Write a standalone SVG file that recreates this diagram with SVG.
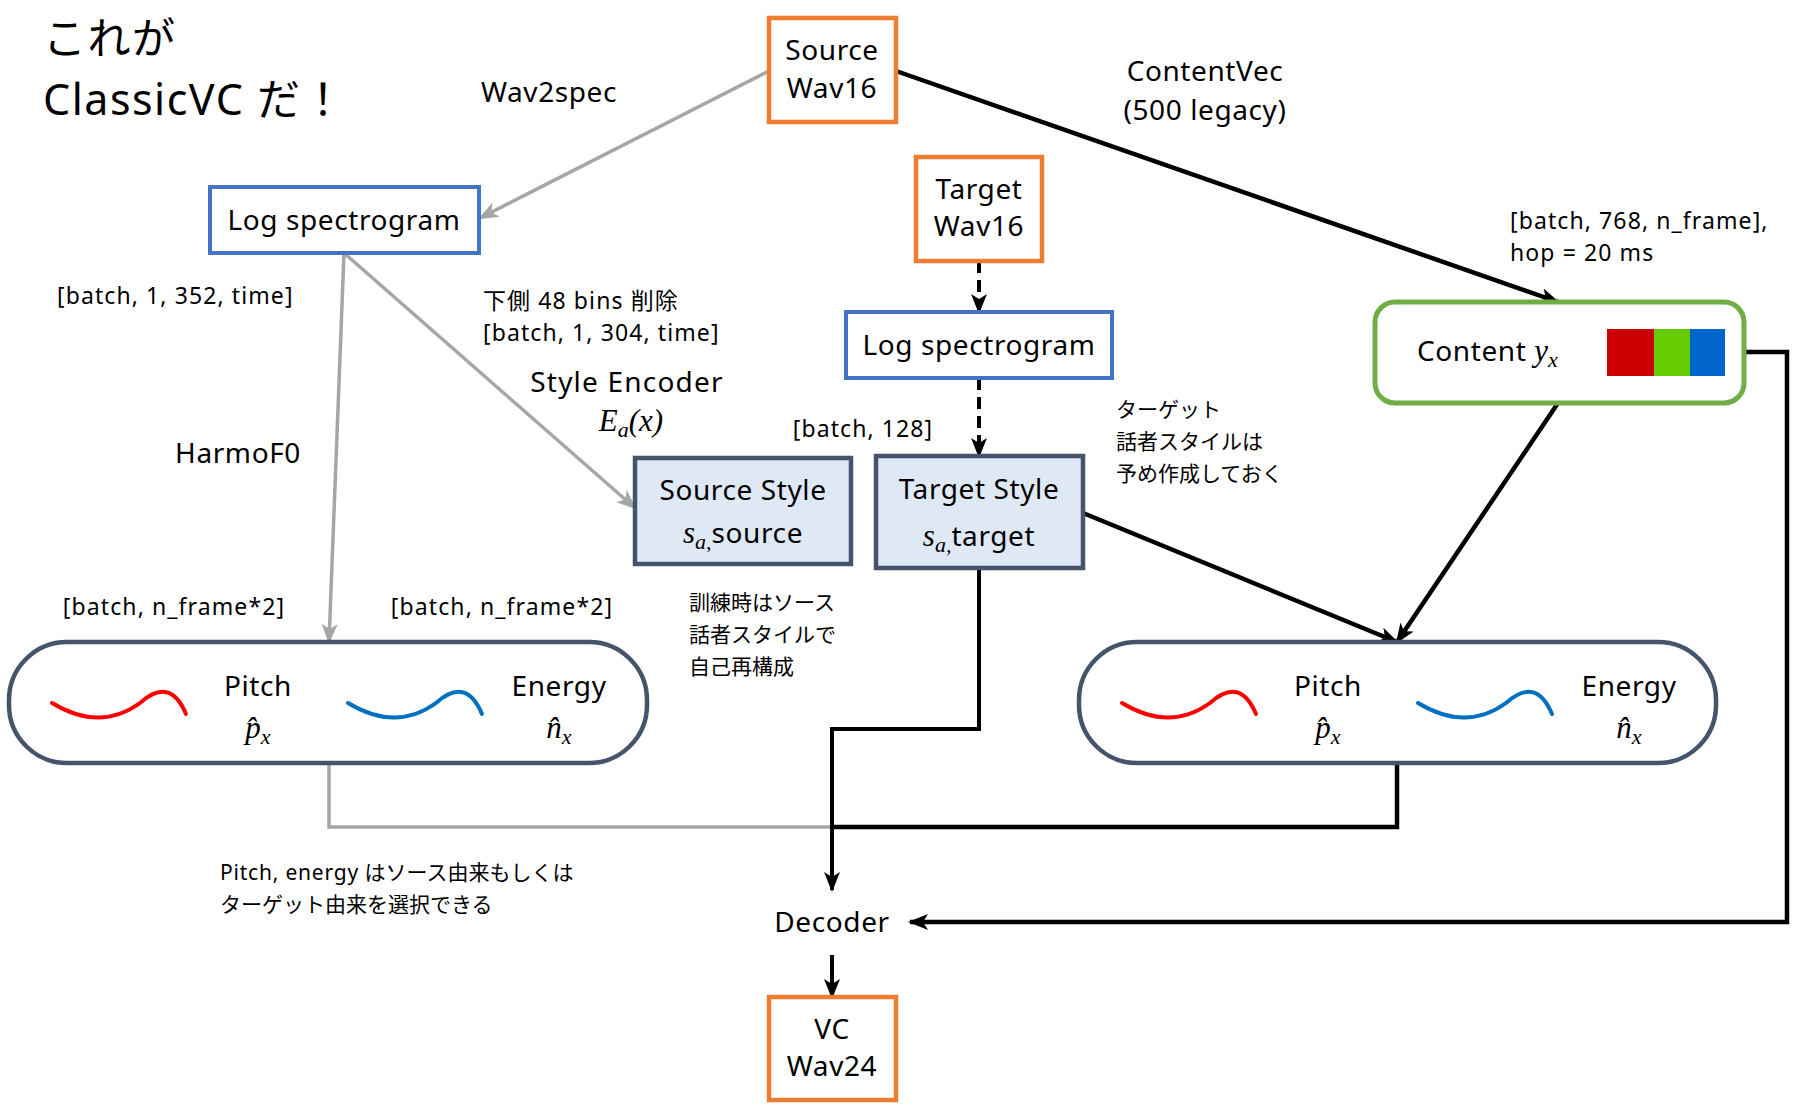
<svg xmlns="http://www.w3.org/2000/svg" width="1800" height="1116" viewBox="0 0 1800 1116">
<defs>
<style>
text{font-family:"Noto Sans","Noto Sans CJK JP",sans-serif;fill:#000}
.t{font-size:28px;letter-spacing:0.6px}
.c{text-anchor:middle}
.s{font-size:23px;letter-spacing:1.1px}
.j{font-size:21px;font-family:"Noto Sans CJK JP",sans-serif}
.jl{font-size:21px}
.title{font-size:43px;letter-spacing:1.5px}
.m{font-family:"Liberation Serif","DejaVu Serif",serif;font-style:italic;letter-spacing:0}
.orange{fill:#fff;stroke:#ed7d31;stroke-width:4.5}
.blue{fill:#fff;stroke:#4472c4;stroke-width:4}
.style{fill:#dfe9f5;stroke:#44546a;stroke-width:4.5}
.pill{fill:#fff;stroke:#44546a;stroke-width:4.5}
.green{fill:#fff;stroke:#70ad47;stroke-width:5}
.k{fill:none;stroke:#000;stroke-width:4.5}
.kt{fill:none;stroke:#000;stroke-width:4}
.g{fill:none;stroke:#a6a6a6;stroke-width:3.5}
.d{fill:none;stroke:#000;stroke-width:4;stroke-dasharray:12,7}
.red{fill:none;stroke:#ff0000;stroke-width:4;stroke-linecap:round}
.bl{fill:none;stroke:#0070c0;stroke-width:4;stroke-linecap:round}
</style>
<marker id="ak" markerUnits="userSpaceOnUse" markerWidth="20" markerHeight="16" refX="18" refY="8" orient="auto"><path d="M0,0 L20,8 L0,16 L5,8 Z" fill="#000"/></marker>
<marker id="ag" markerUnits="userSpaceOnUse" markerWidth="20" markerHeight="16" refX="18" refY="8" orient="auto"><path d="M0,0 L20,8 L0,16 L5,8 Z" fill="#a6a6a6"/></marker>
</defs>
<rect width="1800" height="1116" fill="#fff"/>

<g id="labels">
<text class="title" x="43" y="54">これが</text>
<text class="title" x="43" y="115">ClassicVC だ！</text>
<text class="t c" x="549" y="102">Wav2spec</text>
<text class="t c" x="1205" y="81">ContentVec</text>
<text class="t c" x="1205" y="120">(500 legacy)</text>
<text class="s" x="1510" y="229">[batch, 768, n_frame],</text>
<text class="s" x="1510" y="261">hop = 20 ms</text>
<text class="s" x="57" y="304">[batch, 1, 352, time]</text>
<text class="s" x="483" y="309">下側 48 bins 削除</text>
<text class="s" x="483" y="341">[batch, 1, 304, time]</text>
<text class="t c" x="627" y="392" style="letter-spacing:1.2px">Style Encoder</text>
<text class="m c" x="631" y="431" font-size="31">E<tspan font-size="22" dy="6">a</tspan><tspan dy="-6">(x)</tspan></text>
<text class="t c" x="238" y="463">HarmoF0</text>
<text class="s c" x="863" y="437">[batch, 128]</text>
<text class="j" x="1116" y="417">ターゲット</text>
<text class="j" x="1116" y="449">話者スタイルは</text>
<text class="j" x="1116" y="481">予め作成しておく</text>
<text class="j" x="689" y="610">訓練時はソース</text>
<text class="j" x="689" y="642">話者スタイルで</text>
<text class="j" x="689" y="674">自己再構成</text>
<text class="s c" x="174" y="615">[batch, n_frame*2]</text>
<text class="s c" x="502" y="615">[batch, n_frame*2]</text>
<text class="jl" x="220" y="880"><tspan style="letter-spacing:0.8px">Pitch, energy</tspan> はソース由来もしくは</text>
<text class="j" x="220" y="912">ターゲット由来を選択できる</text>
</g>

<g id="connectors">
<line class="g" x1="769" y1="71" x2="480" y2="218" marker-end="url(#ag)"/>
<line class="k" x1="896" y1="71" x2="1558" y2="302" marker-end="url(#ak)"/>
<line class="g" x1="344" y1="253" x2="329" y2="642" marker-end="url(#ag)"/>
<line class="g" x1="344" y1="253" x2="635" y2="508" marker-end="url(#ag)"/>
<line class="d" x1="979" y1="261" x2="979" y2="312" marker-end="url(#ak)"/>
<line class="d" x1="979" y1="378" x2="979" y2="456" marker-end="url(#ak)"/>
<line class="k" x1="1083" y1="513" x2="1397" y2="642" marker-end="url(#ak)"/>
<line class="k" x1="1558" y1="403" x2="1397" y2="642" marker-end="url(#ak)"/>
<polyline class="k" points="1744,352 1787,352 1787,922 910,922" marker-end="url(#ak)"/>
<polyline class="g" points="329,763 329,827 832,827"/>
<polyline class="k" points="1397,763 1397,827 832,827"/>
<polyline class="kt" points="979,568 979,729 832,729 832,890" marker-end="url(#ak)"/>
<line class="kt" x1="832" y1="955" x2="832" y2="997" marker-end="url(#ak)"/>
</g>

<g id="source-wav16">
<rect class="orange" x="769" y="18" width="127" height="104"/>
<text class="t c" x="832" y="60">Source</text>
<text class="t c" x="832" y="98">Wav16</text>
</g>

<g id="target-wav16">
<rect class="orange" x="916" y="157" width="126" height="104"/>
<text class="t c" x="979" y="199">Target</text>
<text class="t c" x="979" y="236">Wav16</text>
</g>

<g id="log-spec-source">
<rect class="blue" x="210" y="187" width="269" height="66"/>
<text class="t c" x="344" y="230">Log spectrogram</text>
</g>

<g id="log-spec-target">
<rect class="blue" x="846" y="312" width="266" height="66"/>
<text class="t c" x="979" y="355">Log spectrogram</text>
</g>

<g id="content">
<rect class="green" x="1375" y="302" width="369" height="101" rx="20"/>
<text class="t" x="1417" y="361">Content <tspan class="m" font-size="31">y</tspan><tspan class="m" font-size="22" dy="6">x</tspan></text>
<rect x="1607" y="329" width="47" height="47" fill="#cc0000"/>
<rect x="1654" y="329" width="36" height="47" fill="#66cc00"/>
<rect x="1690" y="329" width="35" height="47" fill="#0066cc"/>
</g>

<g id="source-style">
<rect class="style" x="635" y="458" width="216" height="106"/>
<text class="t c" x="743" y="500">Source Style</text>
<text class="t c" x="743" y="543"><tspan class="m" font-size="31">s</tspan><tspan class="m" font-size="22" dy="6">a,</tspan><tspan dy="-6">source</tspan></text>
</g>

<g id="target-style">
<rect class="style" x="876" y="456" width="207" height="112"/>
<text class="t c" x="979" y="499">Target Style</text>
<text class="t c" x="979" y="546"><tspan class="m" font-size="31">s</tspan><tspan class="m" font-size="22" dy="6">a,</tspan><tspan dy="-6">target</tspan></text>
</g>

<g id="pitch-energy-source">
<rect class="pill" x="9" y="642" width="638" height="121" rx="58"/>
<path class="red" d="M52,703 Q100,732 140,703 Q170,676 186,714"/>
<path class="bl" d="M348,703 Q396,732 436,703 Q466,676 482,714"/>
<text class="t c" x="258" y="696">Pitch</text>
<text class="m c" x="258" y="738" font-size="31">p̂<tspan font-size="22" dy="6">x</tspan></text>
<text class="t c" x="559" y="696">Energy</text>
<text class="m c" x="559" y="738" font-size="31">n̂<tspan font-size="22" dy="6">x</tspan></text>
</g>

<g id="pitch-energy-target">
<rect class="pill" x="1079" y="642" width="637" height="121" rx="58"/>
<path class="red" d="M1122,703 Q1170,732 1210,703 Q1240,676 1256,714"/>
<path class="bl" d="M1418,703 Q1466,732 1506,703 Q1536,676 1552,714"/>
<text class="t c" x="1328" y="696">Pitch</text>
<text class="m c" x="1328" y="738" font-size="31">p̂<tspan font-size="22" dy="6">x</tspan></text>
<text class="t c" x="1629" y="696">Energy</text>
<text class="m c" x="1629" y="738" font-size="31">n̂<tspan font-size="22" dy="6">x</tspan></text>
</g>

<g id="decoder">
<text class="t c" x="832" y="932">Decoder</text>
</g>

<g id="vc-wav24">
<rect class="orange" x="769" y="997" width="127" height="103"/>
<text class="t c" x="832" y="1039">VC</text>
<text class="t c" x="832" y="1076">Wav24</text>
</g>
</svg>
